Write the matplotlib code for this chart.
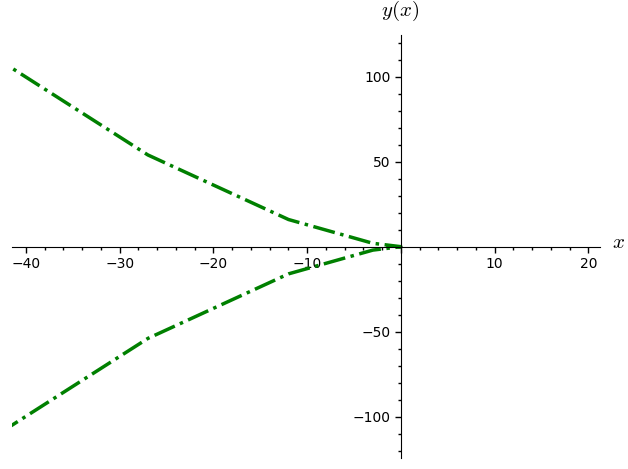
import matplotlib
matplotlib.use("Agg")
import matplotlib.pyplot as plt
from matplotlib.ticker import MultipleLocator, FuncFormatter

plt.rcParams['mathtext.fontset'] = 'cm'

# Data (parametric points)
x_vals = [-48, -27, -12, -3, 0, -3, -12, -27, -48]
y_vals = [-128, -54, -16, -2, 0, 2, 16, 54, 128]

x_major = 10
x_minor = 2
y_major = 50
y_minor = 10

fig = plt.figure(figsize=(6.28, 4.69), dpi=100)
ax = fig.add_axes([0.019, 0.023, 0.936, 0.902])

ax.plot(x_vals, y_vals, color=(0, 0.5, 0), linestyle='-.', linewidth=2.5)

ax.set_xlim(-41.5, 21.2)
ax.set_ylim(-124.5, 124.5)

for s in ['top', 'right']:
    ax.spines[s].set_visible(False)
ax.spines['left'].set_position(('data', 0))
ax.spines['bottom'].set_position(('data', 0))

ax.xaxis.set_major_locator(MultipleLocator(x_major))
ax.xaxis.set_minor_locator(MultipleLocator(x_minor))
ax.yaxis.set_major_locator(MultipleLocator(y_major))
ax.yaxis.set_minor_locator(MultipleLocator(y_minor))

fmt = FuncFormatter(lambda v, p: '' if abs(v) < 1e-9 else ('%d' % v).replace('-', '\u2212'))
ax.xaxis.set_major_formatter(fmt)
ax.yaxis.set_major_formatter(fmt)

ax.tick_params(which='major', direction='out', length=4, width=1, labelsize=10)
ax.tick_params(which='minor', direction='out', length=2, width=1)

fig.text(618 / 628, 1 - 242 / 469, r'$x$', fontsize=15, ha='center', va='center')
fig.text(400 / 628, 1 - 11 / 469, r'$y(x)$', fontsize=15, ha='center', va='center')

fig.savefig('out.png', dpi=100)
